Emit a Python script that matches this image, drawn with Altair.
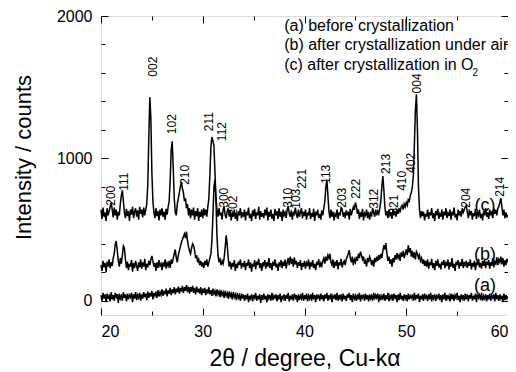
import altair as alt
import pandas as pd

# ---------------- data ----------------
two_theta = [round(20 + 0.1 * i, 1) for i in range(401)]

curve_a_rows = [
    [40, 0, 55, 15, 45, -10, 50, 20, 35, -5, 60, 10, 40, 0, 55, 25, 45, -15, 50, 15],
    [35, 0, 60, 20, 45, -5, 50, 10, 40, 25, 55, -10, 45, 15, 60, 5, 40, 20, 55, 0],
    [45, 15, 60, 25, 50, 5, 65, 20, 55, 30, 70, 10, 55, 35, 65, 20, 75, 30, 60, 40],
    [80, 35, 70, 45, 85, 30, 75, 50, 90, 40, 80, 55, 95, 45, 85, 60, 100, 50, 90, 65],
    [105, 55, 95, 70, 110, 60, 100, 50, 95, 65, 105, 55, 90, 45, 100, 60, 85, 50, 95, 40],
    [85, 55, 90, 40, 80, 50, 95, 45, 75, 35, 85, 50, 70, 30, 80, 45, 65, 25, 75, 40],
    [60, 20, 70, 35, 55, 15, 65, 30, 50, 10, 60, 25, 45, 5, 55, 20, 40, 0, 50, 15],
    [45, 0, 40, 10, 50, -10, 35, 15, 45, -5, 40, 20, 55, 0, 35, 10, 45, -15, 40, 5],
    [50, 10, 35, -10, 45, 15, 40, 0, 55, 5, 35, 20, 45, -5, 40, 10, 50, -10, 35, 15],
    [45, 0, 40, 15, 55, -5, 35, 10, 45, 0, 50, 20, 40, -10, 45, 5, 35, 15, 55, 0],
    [40, 10, 50, -5, 35, 15, 45, 0, 55, 10, 40, -10, 45, 20, 35, 0, 50, 10, 40, -5],
    [45, 15, 55, 0, 40, 10, 50, -10, 35, 20, 45, 5, 55, 0, 40, 15, 45, -5, 50, 10],
    [35, 0, 45, 20, 55, 5, 40, -10, 50, 15, 35, 0, 45, 10, 55, -5, 40, 20, 45, 0],
    [50, 10, 40, -5, 45, 15, 35, 0, 55, 10, 40, 20, 50, -10, 45, 5, 35, 15, 50, 0],
    [40, 10, 55, -5, 35, 15, 45, 0, 50, 20, 40, -10, 45, 5, 55, 10, 35, 0, 45, 15],
    [40, -5, 50, 10, 35, 20, 45, 0, 55, 5, 40, 15, 50, -10, 35, 10, 45, 0, 50, 20],
    [35, 0, 45, 10, 55, -5, 40, 15, 45, 0, 35, 20, 50, 5, 40, -10, 45, 10, 55, 0],
    [40, 15, 35, -5, 50, 10, 45, 0, 40, 20, 55, 5, 35, -10, 45, 15, 40, 0, 50, 10],
    [45, -5, 40, 15, 55, 0, 35, 10, 50, -10, 45, 20, 40, 5, 55, 0, 35, 15, 45, -5],
    [40, 10, 50, 0, 35, 20, 45, -5, 55, 10, 40, 0, 45, 15, 35, -10, 50, 5, 40, 15],
]
curve_a_last = 30

curve_b_rows = [
    [250, 210, 280, 235, 265, 200, 275, 240, 290, 230, 270, 245, 300, 330, 400, 420, 350, 280, 240, 300],
    [260, 320, 385, 370, 290, 230, 275, 215, 260, 240, 285, 205, 265, 230, 280, 245, 210, 270, 235, 290],
    [225, 270, 240, 295, 215, 260, 235, 280, 250, 290, 315, 280, 240, 265, 210, 270, 230, 285, 245, 260],
    [215, 270, 240, 290, 225, 265, 245, 280, 230, 290, 260, 300, 330, 360, 300, 270, 320, 350, 380, 410],
    [430, 450, 470, 440, 485, 420, 380, 350, 330, 370, 400, 390, 350, 300, 320, 270, 290, 250, 280, 240],
    [270, 230, 280, 250, 290, 240, 270, 300, 330, 420, 600, 800, 850, 700, 450, 320, 270, 290, 250, 280],
    [260, 300, 370, 460, 400, 300, 240, 275, 220, 265, 240, 285, 210, 260, 230, 275, 250, 290, 225, 265],
    [240, 280, 215, 265, 245, 290, 230, 270, 205, 260, 240, 285, 220, 275, 250, 295, 230, 265, 210, 270],
    [250, 285, 225, 270, 240, 300, 230, 265, 215, 275, 245, 290, 235, 260, 210, 270, 250, 285, 230, 275],
    [245, 290, 225, 270, 300, 250, 310, 260, 295, 240, 305, 255, 280, 230, 270, 245, 285, 215, 265, 240],
    [280, 225, 265, 245, 290, 220, 270, 240, 285, 230, 260, 215, 275, 250, 290, 235, 265, 245, 280, 300],
    [260, 310, 280, 320, 300, 330, 270, 250, 290, 230, 275, 245, 285, 220, 270, 250, 295, 235, 265, 280],
    [250, 290, 310, 330, 355, 300, 270, 310, 250, 290, 270, 310, 280, 330, 300, 345, 320, 290, 310, 260],
    [280, 240, 300, 270, 310, 290, 250, 285, 240, 300, 270, 310, 280, 320, 290, 330, 300, 350, 390, 360],
    [405, 330, 280, 310, 260, 290, 240, 300, 270, 320, 290, 335, 300, 320, 280, 340, 310, 350, 300, 330],
    [360, 320, 390, 340, 370, 310, 350, 300, 340, 290, 345, 330, 300, 320, 280, 300, 260, 290, 245, 280],
    [240, 290, 225, 270, 250, 295, 230, 265, 215, 280, 245, 290, 235, 260, 220, 275, 250, 285, 230, 265],
    [245, 290, 220, 270, 240, 300, 230, 260, 210, 275, 250, 285, 225, 270, 245, 295, 230, 265, 250, 280],
    [230, 270, 245, 290, 220, 265, 240, 280, 215, 270, 250, 295, 235, 265, 225, 280, 245, 290, 230, 275],
    [250, 285, 225, 270, 245, 300, 235, 275, 260, 305, 250, 290, 270, 310, 255, 300, 240, 285, 250, 295],
]
curve_b_last = 270

curve_c_rows = [
    [640, 575, 655, 590, 620, 560, 650, 600, 630, 660, 690, 640, 585, 655, 600, 640, 570, 625, 600, 680],
    [740, 775, 700, 620, 580, 645, 595, 630, 560, 640, 605, 660, 580, 625, 650, 590, 635, 570, 660, 610],
    [640, 585, 655, 600, 640, 680, 820, 1150, 1430, 1280, 900, 700, 620, 580, 650, 595, 630, 565, 640, 600],
    [650, 590, 625, 570, 645, 605, 660, 700, 850, 1060, 1120, 930, 720, 620, 600, 680, 720, 760, 800, 835],
    [790, 760, 700, 720, 650, 680, 600, 650, 580, 640, 600, 655, 570, 630, 595, 650, 560, 625, 590, 640],
    [580, 650, 600, 640, 590, 660, 720, 880, 1080, 1150, 1120, 1090, 900, 720, 640, 590, 650, 600, 620, 570],
    [640, 665, 600, 580, 630, 650, 590, 635, 565, 620, 590, 640, 575, 615, 560, 630, 600, 650, 580, 620],
    [590, 640, 565, 625, 600, 655, 580, 610, 560, 635, 595, 645, 575, 620, 600, 660, 570, 630, 590, 615],
    [580, 640, 600, 655, 565, 625, 590, 640, 575, 610, 560, 645, 600, 630, 575, 650, 590, 625, 560, 640],
    [600, 620, 580, 640, 665, 610, 590, 635, 570, 625, 600, 655, 610, 580, 640, 590, 620, 650, 580, 625],
    [595, 640, 570, 620, 600, 650, 575, 615, 590, 645, 560, 625, 600, 640, 580, 610, 570, 635, 600, 650],
    [700, 800, 850, 740, 630, 580, 640, 590, 625, 565, 610, 595, 640, 575, 620, 600, 655, 645, 590, 620],
    [580, 635, 600, 625, 570, 645, 600, 630, 660, 640, 690, 665, 610, 640, 575, 620, 590, 645, 565, 615],
    [600, 640, 580, 625, 570, 615, 600, 650, 620, 590, 640, 600, 630, 610, 650, 700, 800, 875, 780, 660],
    [600, 630, 580, 640, 600, 620, 575, 645, 600, 630, 590, 640, 610, 650, 620, 660, 670, 640, 680, 660],
    [690, 670, 710, 700, 740, 760, 800, 880, 1100, 1340, 1450, 1200, 800, 640, 580, 630, 595, 625, 565, 610],
    [590, 640, 575, 620, 600, 650, 580, 615, 560, 630, 600, 645, 575, 610, 590, 640, 570, 625, 600, 650],
    [580, 615, 595, 640, 570, 625, 600, 655, 585, 610, 565, 640, 600, 630, 590, 650, 620, 640, 660, 670],
    [620, 580, 640, 600, 630, 570, 615, 595, 645, 575, 620, 600, 640, 580, 610, 565, 630, 600, 650, 590],
    [620, 575, 640, 600, 630, 580, 650, 610, 640, 600, 650, 660, 690, 720, 660, 600, 640, 580, 620, 590],
]
curve_c_last = 600

peak_labels = ["200", "111", "002", "102", "210", "211", "112", "300", "202",
               "310", "103", "221", "113", "203", "222", "312", "213", "321",
               "410", "402", "004", "204", "214"]
peak_x = [20.98, 22.25, 25.09, 26.94, 28.21, 30.66, 31.93, 32.13, 33.01,
          38.39, 39.17, 39.76, 42.10, 43.67, 45.04, 46.80, 47.97, 48.75,
          49.63, 50.42, 51.10, 55.89, 59.22]
peak_y = [667, 772, 1574, 1170, 814, 1191, 1121, 653, 598,
          653, 646, 786, 821, 653, 716, 646, 891, 605,
          772, 898, 1456, 653, 730]

legend_texts = ["(a) before crystallization",
                "(b) after crystallization under air",
                "(c) after crystallization in O"]
legend_x = [38.0, 38.0, 38.0]
legend_y = [1927, 1794, 1655]
subscript_text = ["2"]
subscript_x = [56.5]
subscript_y = [1600]

curve_tags = ["(a)", "(b)", "(c)"]
curve_tag_x = [57.75, 57.75, 57.75]
curve_tag_y = [102, 319, 667]

x_major = [20, 30, 40, 50, 60]
x_minor = [25, 35, 45, 55]
y_major = [0, 1000, 2000]
y_minor = [200, 400, 600, 800, 1200, 1400, 1600, 1800]


def flatten(rows, last, name):
    vals = [v for r in rows for v in r] + [last]
    if len(vals) != 401:
        raise ValueError(f"{name}: {len(vals)} values, rows {[len(r) for r in rows]}")
    return vals


curve_a = flatten(curve_a_rows, curve_a_last, "a")
curve_b = flatten(curve_b_rows, curve_b_last, "b")
curve_c = flatten(curve_c_rows, curve_c_last, "c")

df = pd.DataFrame({
    "two_theta": two_theta * 3,
    "intensity": curve_a + curve_b + curve_c,
    "trace": ["a"] * 401 + ["b"] * 401 + ["c"] * 401,
})
peak_df = pd.DataFrame({"label": peak_labels, "x": peak_x, "y": peak_y})
legend_df = pd.DataFrame({"label": legend_texts, "x": legend_x, "y": legend_y})
sub_df = pd.DataFrame({"label": subscript_text, "x": subscript_x, "y": subscript_y})
tag_df = pd.DataFrame({"label": curve_tags, "x": curve_tag_x, "y": curve_tag_y})

# ---------------- chart ----------------
W, H = 407, 299
FONT = "Liberation Sans"
xs = alt.Scale(domain=[20, 60], nice=False, zero=False)
ys = alt.Scale(domain=[-100, 2000], nice=False, zero=False)


def tick_axis(orient, values, size, offset):
    return alt.Axis(orient=orient, values=values, tickSize=size, offset=offset,
                    labels=False, domain=False, grid=False, title="",
                    ticks=True, tickColor="black", tickWidth=1)


lines = alt.Chart(df).mark_line(color="black", strokeWidth=1.5).encode(
    x=alt.X("two_theta:Q", scale=xs,
            axis=alt.Axis(orient="bottom", values=x_major, ticks=False, tickSize=0,
                          domain=False, grid=False, labelFont=FONT, labelFontSize=16,
                          labelPadding=8, labelColor="black", format="d",
                          title="2θ / degree, Cu-kα", titleFont=FONT, titleFontSize=23,
                          titleFontWeight="normal", titleColor="black",
                          titleBaseline="middle", titleY=43)),
    y=alt.Y("intensity:Q", scale=ys,
            axis=alt.Axis(orient="left", values=y_major, ticks=False, tickSize=0,
                          domain=False, grid=False, labelFont=FONT, labelFontSize=16,
                          labelPadding=9, labelColor="black", format="d",
                          title="Intensity / counts", titleFont=FONT, titleFontSize=22,
                          titleFontWeight="normal", titleColor="black", titleAngle=270,
                          titleX=-78, titleY=141, titleBaseline="middle",
                          titleAlign="center")),
    detail="trace:N",
)

peaks = alt.Chart(peak_df).mark_text(
    angle=270, align="left", baseline="middle", font=FONT, fontSize=12, color="black"
).encode(
    x=alt.X("x:Q", scale=xs, axis=tick_axis("top", x_major, 7, -H)),
    y=alt.Y("y:Q", scale=ys, axis=tick_axis("right", y_major, 7, -W)),
    text="label:N",
)

legend = alt.Chart(legend_df).mark_text(
    align="left", baseline="middle", font=FONT, fontSize=16, color="black", clip=True
).encode(
    x=alt.X("x:Q", scale=xs, axis=tick_axis("top", x_minor, 4, -H)),
    y=alt.Y("y:Q", scale=ys, axis=tick_axis("right", y_minor, 4, -W)),
    text="label:N",
)

sub = alt.Chart(sub_df).mark_text(
    align="left", baseline="middle", font=FONT, fontSize=10, color="black", clip=True
).encode(
    x=alt.X("x:Q", scale=xs, axis=tick_axis("bottom", x_major, 7, -H)),
    y=alt.Y("y:Q", scale=ys, axis=tick_axis("left", y_major, 7, -W)),
    text="label:N",
)

tags = alt.Chart(tag_df).mark_text(
    align="center", baseline="middle", font=FONT, fontSize=18, color="black"
).encode(
    x=alt.X("x:Q", scale=xs, axis=tick_axis("bottom", x_minor, 4, -H)),
    y=alt.Y("y:Q", scale=ys, axis=tick_axis("left", y_minor, 4, -W)),
    text="label:N",
)

chart = alt.layer(lines, peaks, legend, sub, tags).resolve_axis(
    x="independent", y="independent"
).properties(
    width=W, height=H,
    autosize=alt.AutoSizeParams(type="none"),
    padding={"left": 93, "top": 8, "right": 0, "bottom": 56},
).configure_view(
    stroke="black", strokeWidth=1.2
).configure(background="white")

chart.save("out.html", embed_options={"renderer": "svg", "actions": False})
